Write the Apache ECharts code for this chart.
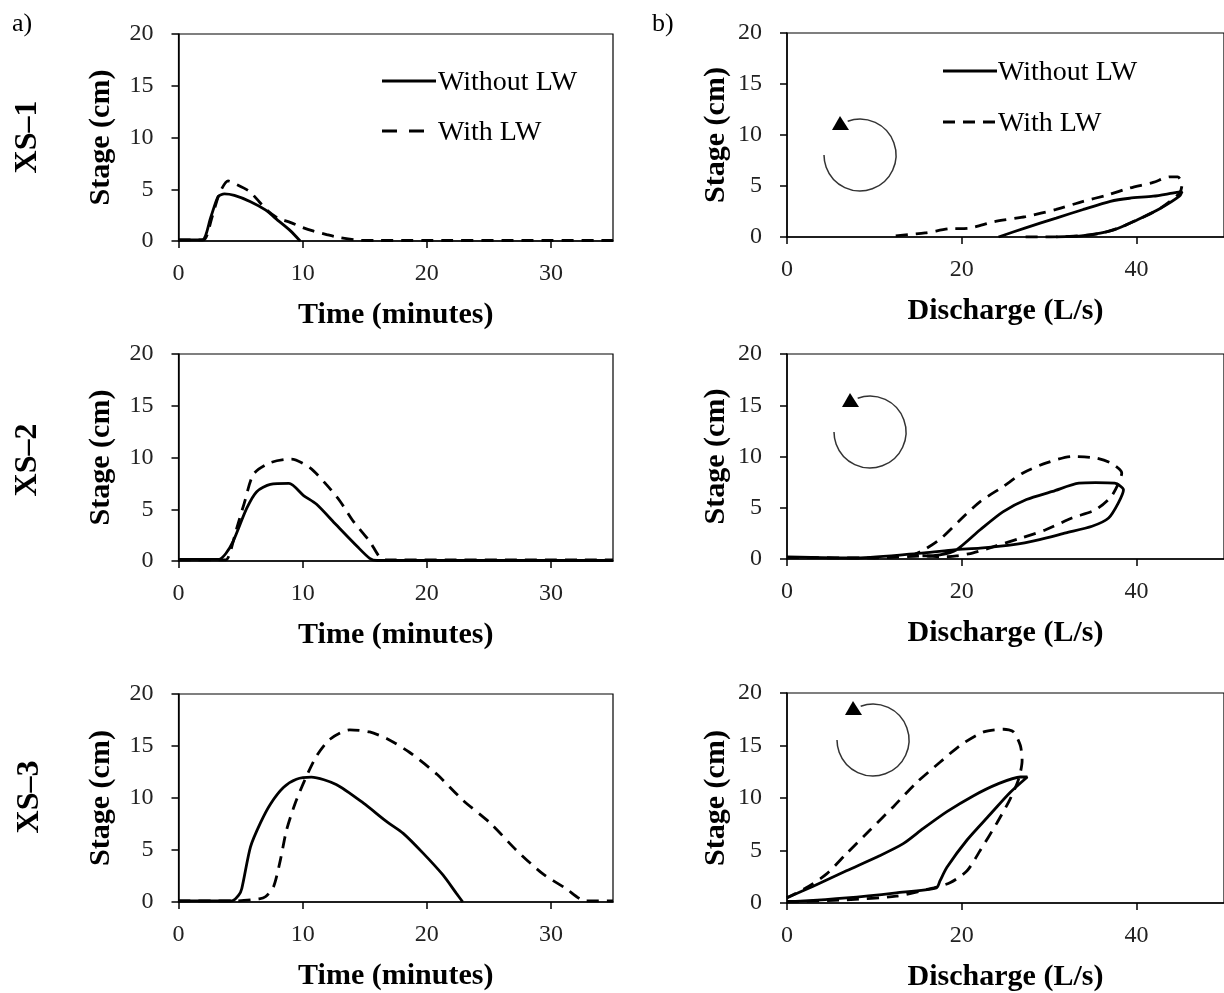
<!DOCTYPE html>
<html>
<head>
<meta charset="utf-8">
<script src="https://cdn.jsdelivr.net/npm/echarts@6/dist/echarts.min.js"></script>
<style>
html,body{margin:0;padding:0;background:#fff;}
#chart{width:1224px;height:993px;}
</style>
</head>
<body>
<div id="chart"></div>
<script>
// ---- Data ----
const seriesNames = ['Without LW', 'With LW'];
const timeTicks = [0, 10, 20, 30];
const dischargeTicks = [0, 20, 40];
const stageTicks = [0, 5, 10, 15, 20];
const rowLabels = ['XS\u20131', 'XS\u20132', 'XS\u20133'];

// XS-1 : stage vs time
const xs1TimeWithout = [[0,0.1],[1.9,0.1],[2.6,2.3],[3.2,4.3],[3.7,4.55],[4.5,4.4],[5.8,3.8],[7,3.0],[8,2.0],[9,1.0],[9.8,0]];
const xs1TimeWith = [[0,0.1],[2,0.1],[2.7,2.3],[3.3,4.6],[4.0,5.8],[4.6,5.5],[5.7,4.8],[6.5,3.8],[7.1,3.0],[8,2.2],[8.9,1.85],[10,1.3],[10.9,0.95],[12,0.6],[12.9,0.35],[14.6,0.07],[16,0.05],[35,0.05]];
// XS-2 : stage vs time
const xs2TimeWithout = [[0,0.15],[3.25,0.15],[3.8,0.7],[4.4,1.9],[5.5,5.1],[6.3,6.7],[7.4,7.4],[8.9,7.5],[10.1,6.3],[11.1,5.5],[12.7,3.5],[14.4,1.4],[15.4,0.26],[16,0.05],[35,0.05]];
const xs2TimeWith = [[0,0.1],[3.8,0.1],[4.1,0.6],[4.7,3.2],[5.3,5.6],[6.05,8.4],[7.4,9.5],[9.1,9.85],[10.6,9.0],[11.9,7.4],[13.0,5.8],[14.1,3.8],[15.4,1.9],[16.2,0.4],[16.8,0.1],[35,0.1]];
// XS-3 : stage vs time
const xs3TimeWithout = [[0,0.1],[4.3,0.1],[4.85,0.65],[5.1,1.3],[5.8,5.3],[6.6,7.6],[7.4,9.4],[8.45,11.0],[9.5,11.8],[10.7,12.0],[12.7,11.3],[14.9,9.5],[16.8,7.7],[18.1,6.6],[19.7,4.7],[21.3,2.6],[22.4,0.8],[22.9,0]];
const xs3TimeWith = [[0,0.1],[4.5,0.1],[6.5,0.3],[7.0,0.5],[7.65,1.45],[8.2,4.0],[8.7,6.9],[9.4,9.5],[10.2,11.8],[11.1,14.0],[12.2,15.65],[13.8,16.55],[15.4,16.35],[16.8,15.7],[18.6,14.4],[20.8,12.3],[22.9,9.8],[25.1,7.6],[27.2,5.0],[29.3,2.75],[31.2,1.3],[32.8,0.1],[35,0.1]];

// XS-1 : stage vs discharge (loops, in time order)
const xs1RatingWithout = [[30.8,0],[33.9,0.13],[37.4,0.7],[40.1,1.7],[42.7,2.8],[44.9,4.0],[45.2,4.45],[44.1,4.3],[41.9,4.0],[39.2,3.8],[37,3.5],[33.9,2.7],[30.8,1.85],[27.3,0.9],[24.2,0]];
const xs1RatingWith = [[27.3,0],[29.5,0],[33.9,0.13],[36.1,0.4],[38.3,1.0],[40.5,1.85],[42.7,2.8],[44.9,4.3],[45.2,5.2],[44.7,5.9],[43.8,5.9],[41.9,5.35],[39.2,4.8],[36.6,4.1],[33.9,3.5],[30.8,2.7],[27.3,2.0],[23.75,1.5],[20.7,0.85],[18.5,0.8],[15.8,0.4],[11.8,0.07]];
// XS-2 : stage vs discharge
const xs2RatingWithout = [[0,0.2],[8,0.1],[15.7,0.6],[19.1,0.9],[22.1,1.07],[25.9,1.4],[28.9,1.9],[31.9,2.55],[34.9,3.2],[36.8,4.0],[37.9,5.45],[38.5,6.75],[37.5,7.4],[35.3,7.45],[33.4,7.4],[30.4,6.6],[27.4,5.8],[24.7,4.6],[22.1,2.85],[19.4,0.9],[17.5,0.4],[15.5,0.3]];
const xs2RatingWith = [[0,0.15],[10,0.1],[15.7,0.3],[17.6,0.2],[19.4,0.3],[21.3,0.6],[24,1.3],[26.6,2.0],[29.6,2.85],[32.6,4.0],[35.3,4.8],[37.1,6.1],[38.1,7.7],[38.3,8.4],[37.1,9.35],[35.3,9.85],[32.6,10.0],[29.6,9.35],[27.0,8.4],[24.7,7.05],[22.1,5.6],[19.8,3.8],[17.6,2.0],[15.7,0.9],[14.5,0.4]];
// XS-3 : stage vs discharge
const xs3RatingWithout = [[0,0.15],[1.5,0.17],[6.8,0.48],[12.5,0.97],[17.1,1.45],[17.5,2.1],[18.3,3.4],[20.6,6.0],[23.2,8.4],[25.5,10.5],[27.5,12.0],[26.7,12.0],[24,11.3],[21.3,10.2],[18.3,8.7],[15.6,7.1],[13.3,5.65],[10.6,4.5],[6.8,3.07],[3,1.6],[0,0.5]];
const xs3RatingWith = [[0,0.1],[6.8,0.3],[12.5,0.65],[16.8,1.45],[18.7,1.95],[20.6,3.07],[22.1,5.0],[24,7.6],[25.5,9.85],[26.5,11.8],[26.9,13.55],[26.7,15.0],[25.9,16.3],[24.8,16.55],[22.5,16.3],[19.8,15.0],[17.5,13.4],[14.8,11.45],[12.2,9.2],[9.5,6.95],[6.8,4.7],[4.5,2.75],[2.2,1.45],[0,0.5]];

const panels = [
  {data:[xs1TimeWithout, xs1TimeWith], kind:'time'},
  {data:[xs1RatingWithout, xs1RatingWith], kind:'rating'},
  {data:[xs2TimeWithout, xs2TimeWith], kind:'time'},
  {data:[xs2RatingWithout, xs2RatingWith], kind:'rating'},
  {data:[xs3TimeWithout, xs3TimeWith], kind:'time'},
  {data:[xs3RatingWithout, xs3RatingWith], kind:'rating'}
];

// ---- Layout ----
const FONT = '"Liberation Serif", "Times New Roman", serif';
const gridBoxes = [
  {left:178.5, top:34, width:434.5, height:207},
  {left:787, top:33, width:438, height:204},
  {left:178.5, top:354, width:434.5, height:207},
  {left:787, top:354, width:438, height:205},
  {left:178.5, top:694, width:434.5, height:208},
  {left:787, top:693, width:438, height:210}
];

const axisLineStyle = {color:'#000', width:1.5};
const grids = gridBoxes.map(b => Object.assign({show:true, borderColor:'#000', borderWidth:1.2, backgroundColor:'transparent'}, b));

const xAxes = panels.map((p, i) => {
  const isTime = p.kind === 'time';
  return {
    gridIndex:i, type:'value', min:0, max:isTime?35:50,
    interval:isTime?10:20,
    name:isTime?'Time (minutes)':'Discharge (L/s)',
    nameLocation:'middle', nameGap:59,
    nameTextStyle:{fontFamily:FONT, fontWeight:'bold', fontSize:30, color:'#000'},
    axisLine:{show:true, lineStyle:axisLineStyle},
    axisTick:{show:true, inside:false, length:7, lineStyle:axisLineStyle, customValues:isTime?timeTicks:dischargeTicks},
    axisLabel:{fontFamily:FONT, fontSize:24, color:'#222', margin:21, customValues:isTime?timeTicks:dischargeTicks},
    splitLine:{show:false}
  };
});
const yAxes = panels.map((p, i) => ({
  gridIndex:i, type:'value', min:0, max:20, interval:5,
  name:'Stage (cm)', nameLocation:'middle', nameGap:p.kind==='time'?62:56,
  nameTextStyle:{fontFamily:FONT, fontWeight:'bold', fontSize:30, color:'#000'},
  axisLine:{show:true, lineStyle:axisLineStyle},
  axisTick:{show:true, inside:false, length:7, lineStyle:axisLineStyle, customValues:stageTicks},
  axisLabel:{fontFamily:FONT, fontSize:24, color:'#222', margin:25, customValues:stageTicks},
  splitLine:{show:false}
}));

const series = [];
panels.forEach((p, i) => {
  p.data.forEach((d, k) => {
    series.push({
      name:seriesNames[k], type:'line', xAxisIndex:i, yAxisIndex:i,
      data:d, showSymbol:false, symbol:'none', smooth:0.25, animation:false,
      lineStyle:{color:'#000', width:2.8, type:k===0?'solid':[12,8]},
      itemStyle:{color:'#000'}
    });
  });
});

function loopArrow(cx, cy) {
  return [
    {type:'arc', shape:{cx:cx, cy:cy, r:36, startAngle:250*Math.PI/180, endAngle:Math.PI, clockwise:true},
     style:{fill:null, stroke:'#333', lineWidth:1.5}},
    {type:'polygon', shape:{points:[[cx-20,cy-39],[cx-28,cy-25],[cx-11,cy-25]]}, style:{fill:'#000'}}
  ];
}

function legendBlock(x, y1, y2, textX, dash) {
  return [
    {type:'line', shape:{x1:x, y1:y1, x2:x+54, y2:y1}, style:{stroke:'#000', lineWidth:2.8}},
    {type:'text', x:textX, y:y1+2, style:{text:seriesNames[0], font:'28px '+FONT, fill:'#000', align:'left', verticalAlign:'middle'}},
    {type:'line', shape:{x1:x, y1:y2, x2:x+(dash[2]||54), y2:y2}, style:{stroke:'#000', lineWidth:2.8, lineDash:[dash[0], dash[1]]}},
    {type:'text', x:textX, y:y2+2, style:{text:seriesNames[1], font:'28px '+FONT, fill:'#000', align:'left', verticalAlign:'middle'}}
  ];
}

const graphics = [
  {type:'text', x:12, y:24, style:{text:'a)', font:'26px '+FONT, fill:'#000', align:'left', verticalAlign:'middle'}},
  {type:'text', x:652, y:24, style:{text:'b)', font:'26px '+FONT, fill:'#000', align:'left', verticalAlign:'middle'}},
  {type:'text', x:28, y:137, rotation:Math.PI/2, style:{text:rowLabels[0], font:'bold 32px '+FONT, fill:'#000', align:'center', verticalAlign:'middle'}},
  {type:'text', x:28, y:460, rotation:Math.PI/2, style:{text:rowLabels[1], font:'bold 32px '+FONT, fill:'#000', align:'center', verticalAlign:'middle'}},
  {type:'text', x:30, y:797, rotation:Math.PI/2, style:{text:rowLabels[2], font:'bold 32px '+FONT, fill:'#000', align:'center', verticalAlign:'middle'}}
].concat(
  loopArrow(860,155), loopArrow(870,432), loopArrow(873,740),
  legendBlock(382, 81, 131, 438, [15,12,42]),
  legendBlock(943, 71, 122, 998, [12,8,54])
);

const option = {
  animation:false,
  backgroundColor:'#fff',
  grid:grids, xAxis:xAxes, yAxis:yAxes, series:series,
  graphic:graphics
};

const chart = echarts.init(document.getElementById('chart'), null, {renderer:'canvas'});
chart.setOption(option);
</script>
</body>
</html>
